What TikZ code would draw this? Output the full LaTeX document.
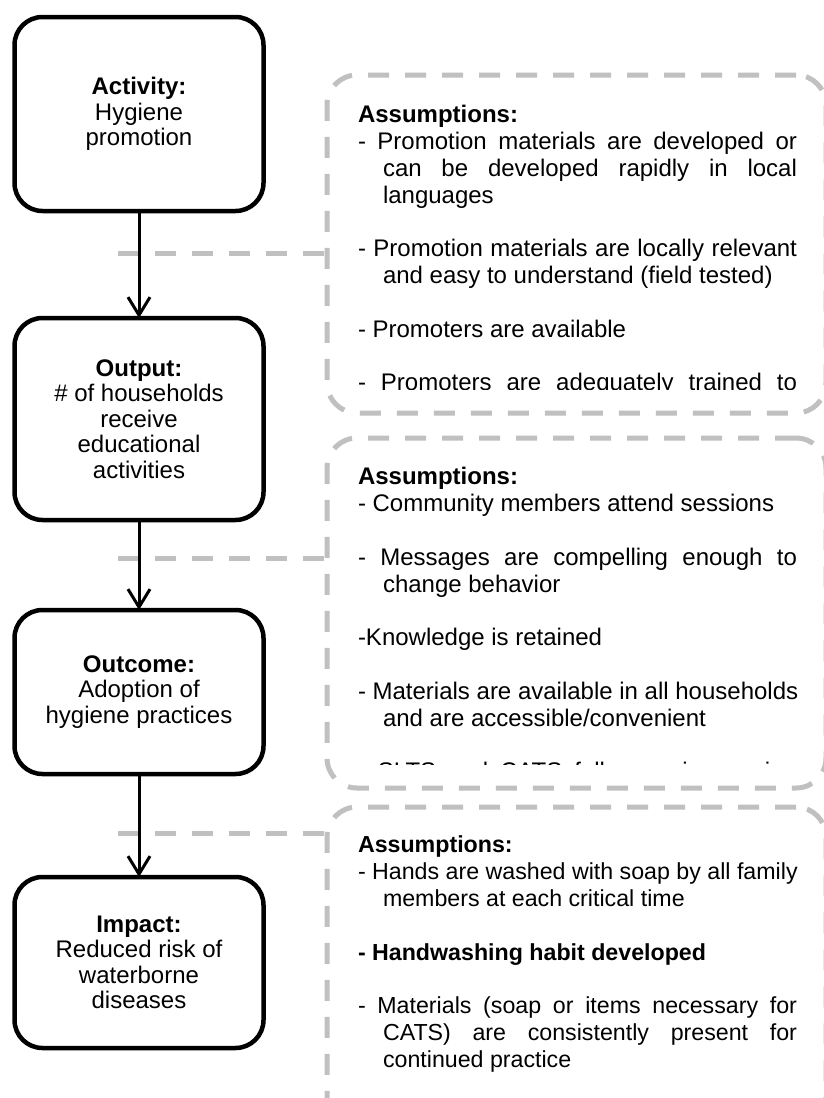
\documentclass[tikz,border=0pt]{standalone}
\usepackage{fontspec}
\setmainfont{Liberation Sans}
\usetikzlibrary{arrows.meta}

\definecolor{dashgray}{RGB}{192,192,192}

\tikzset{
  stagebox/.style={draw=black, line width=4.5pt, rounded corners=28pt, fill=white,
    align=center, anchor=north west, outer sep=0pt, inner sep=0pt,
    minimum width=249pt, font=\fontsize{24pt}{25.5pt}\selectfont},
  assumbox/.style={draw=dashgray, line width=5pt, dash pattern=on 21pt off 16pt,
    rounded corners=30pt, anchor=north west, outer sep=0pt, inner sep=0pt,
    minimum width=499pt},
  linkline/.style={draw=dashgray, line width=5pt, dash pattern=on 21pt off 16pt},
  flow/.style={draw=black, line width=3pt, -{Straight Barb[length=18pt,width=22pt]}},
  asstext/.style={anchor=north west, inner sep=0pt, outer sep=0pt, align=left,
    font=\fontsize{24pt}{26.8pt}\selectfont},
  asstextsmall/.style={asstext, font=\fontsize{23.2pt}{26.8pt}\selectfont},
}

\begin{document}
\begin{tikzpicture}[x=1pt,y=-1pt]
\useasboundingbox (0,0) rectangle (824,1098);
\fill[white] (0,0) rectangle (824,1098);
\clip (0,0) rectangle (824,1098);

% assumption panels on the right
\node[assumbox, minimum height=338pt] (asmA) at (327,75) {};
\node[assumbox, minimum height=350pt] (asmB) at (327,438) {};
\node[assumbox, minimum height=320pt] (asmC) at (327,807) {};

\begin{scope}
  \clip (327,75) rectangle (826,389);
  \node[asstext] (txtA) at (358,105.4) {%
    \textbf{Assumptions:}\\
    \makebox[439pt][s]{- Promotion materials are developed or}\\
    \hspace*{25pt}\makebox[414pt][s]{can be developed rapidly in local}\\
    \hspace*{25pt}languages\\[26.8pt]
    \makebox[439pt][s]{- Promotion materials are locally relevant}\\
    \hspace*{25pt}and easy to understand (field tested)\\[26.8pt]
    - Promoters are available\\[26.8pt]
    \makebox[439pt][s]{- Promoters are adequately trained to}};
\end{scope}

\begin{scope}
  \clip (327,438) rectangle (826,764);
  \node[asstext] (txtB) at (358,467.5) {%
    \textbf{Assumptions:}\\
    - Community members attend sessions\\[26.8pt]
    \makebox[439pt][s]{- Messages are compelling enough to}\\
    \hspace*{25pt}change behavior\\[26.8pt]
    -Knowledge is retained\\[26.8pt]
    - Materials are available in all households\\
    \hspace*{25pt}and are accessible/convenient\\[26.8pt]
    \makebox[439pt][s]{- SLTS and CATS follow-up is ongoing}};
\end{scope}

\node[asstextsmall] (txtC) at (358,836) {%
  \textbf{Assumptions:}\\
  - Hands are washed with soap by all family\\
  \hspace*{25pt}members at each critical time\\[26.8pt]
  \textbf{- Handwashing habit developed}\\[26.8pt]
  \makebox[439pt][s]{- Materials (soap or items necessary for}\\
  \hspace*{25pt}\makebox[414pt][s]{CATS) are consistently present for}\\
  \hspace*{25pt}continued practice};

% dashed links from the flow to the panels
\coordinate (lk1) at (118,253);
\coordinate (lk2) at (118,558);
\coordinate (lk3) at (118,833);
\draw[linkline] (lk1) -- (lk1 -| asmA.west);
\draw[linkline] (lk2) -- (lk2 -| asmB.west);
\draw[linkline] (lk3) -- (lk3 -| asmC.west);

% results chain
\node[stagebox, minimum height=194pt] (act) at (14.5,17)
  {\textbf{Activity:}\\Hygiene\\promotion};
\node[stagebox, minimum height=202pt] (outp) at (14.5,318)
  {\textbf{Output:}\\\# of households\\receive\\educational\\activities};
\node[stagebox, minimum height=164pt] (outc) at (14.5,610)
  {\textbf{Outcome:}\\Adoption of\\hygiene practices};
\node[stagebox, minimum height=171pt] (imp) at (14.5,877)
  {\textbf{Impact:}\\Reduced risk of\\waterborne\\diseases};

\draw[flow] (act.south) -- (outp.north);
\draw[flow] (outp.south) -- (outc.north);
\draw[flow] (outc.south) -- (imp.north);
\end{tikzpicture}
\end{document}
